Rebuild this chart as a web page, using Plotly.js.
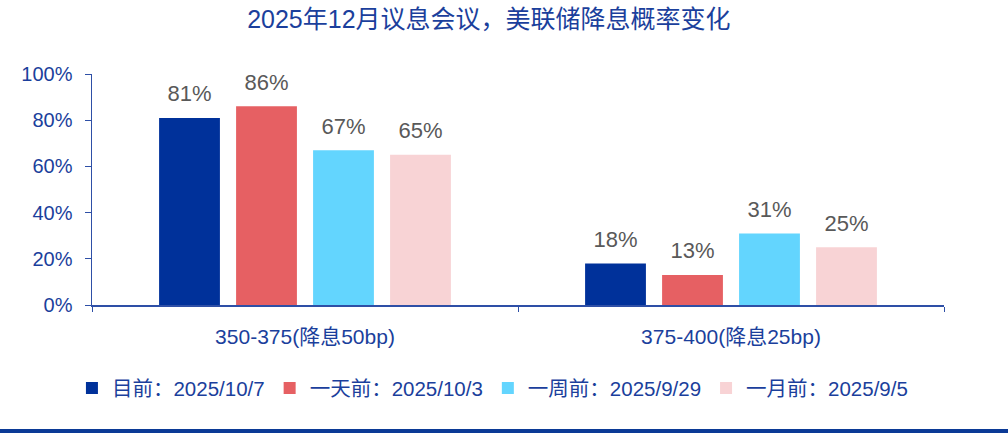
<!DOCTYPE html>
<html><head><meta charset="utf-8">
<script src="https://cdn.plot.ly/plotly-3.0.1.min.js"></script>
<style>html,body{margin:0;padding:0;background:#fff;}#chart{width:1008px;height:434px;}#bar{position:absolute;left:0;top:429px;width:1008px;height:4px;background:#0B3A96;}</style>
</head><body>
<div id="chart"></div><div id="bar"></div>
<script>
const categories = ["350-375(降息50bp)", "375-400(降息25bp)"];
const seriesNames = ["目前：2025/10/7", "一天前：2025/10/3", "一周前：2025/9/29", "一月前：2025/9/5"];
const current = [81, 18];
const oneDayAgo = [86, 13];
const oneWeekAgo = [67, 31];
const oneMonthAgo = [65, 25];
const colors = ["#00319A", "#E66063", "#63D5FE", "#F8D3D5"];
const yTicks = [0, 20, 40, 60, 80, 100];
const yTickLabels = ["0%", "20%", "40%", "60%", "80%", "100%"];

const font = '"Liberation Sans", Arial, "Noto Sans CJK SC", sans-serif';
const blue = "#1B3F9C";
const allVals = [current, oneDayAgo, oneWeekAgo, oneMonthAgo];
const bars = allVals.map((v, i) => ({
  type: "bar", x: categories, y: v, name: seriesNames[i],
  marker: {color: colors[i]}, offsetgroup: "g" + i, alignmentgroup: "a",
  hoverinfo: "none", legendrank: i + 1
}));
const labels = allVals.map((v, i) => ({
  type: "scatter", mode: "markers+text", x: categories, y: v,
  text: v.map(d => d + "%"), textposition: "top center", cliponaxis: false,
  textfont: {color: "#595959", size: 22, family: font},
  marker: {size: 16, opacity: 0, color: colors[i]},
  offsetgroup: "g" + i, alignmentgroup: "a",
  showlegend: false, hoverinfo: "none"
}));

const layout = {
  width: 1008, height: 434,
  margin: {l: 92, r: 64, t: 74, b: 129},
  paper_bgcolor: "#fff", plot_bgcolor: "#fff",
  font: {family: font, color: blue},
  title: {text: "2025年12月议息会议，美联储降息概率变化", font: {size: 25, color: blue, family: font}, x: 0.485, xanchor: "center", y: 0.955, yanchor: "middle"},
  barmode: "group", bargap: 0.277, bargroupgap: 0.21,
  scattermode: "group", scattergap: 0.277,
  xaxis: {showline: true, linecolor: "#2E4FA6", linewidth: 1.5, ticks: "outside", tickson: "boundaries", ticklen: 5, tickcolor: "#2E4FA6",
          tickfont: {size: 21, color: blue}, ticklabelstandoff: 12, showgrid: false, zeroline: false, fixedrange: true},
  yaxis: {range: [0, 100], tickvals: yTicks, ticktext: yTickLabels, showline: true, linecolor: "#2E4FA6", linewidth: 1.5,
          ticks: "outside", ticklen: 6, tickcolor: "#2E4FA6", tickfont: {size: 20, color: blue}, ticklabelstandoff: 8,
          showgrid: false, zeroline: false, fixedrange: true},
  legend: {orientation: "h", x: 0.47, xanchor: "center", y: -0.36, yanchor: "middle",
           font: {size: 20.5, color: blue}, tracegroupgap: 0, traceorder: "normal"},
  showlegend: true
};
Plotly.newPlot("chart", bars.concat(labels), layout, {displayModeBar: false, staticPlot: true});
</script>
</body></html>
